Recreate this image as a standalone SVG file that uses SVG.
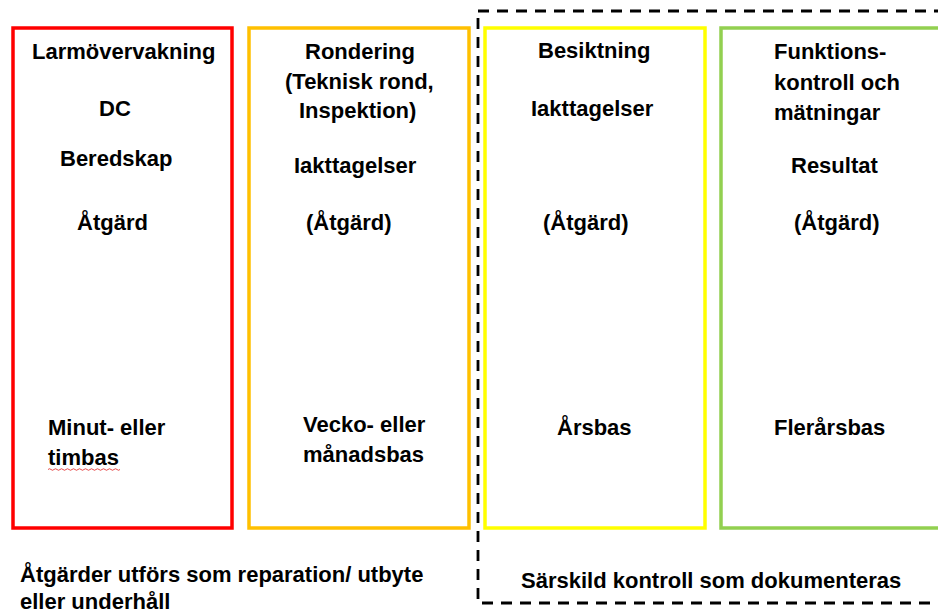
<svg xmlns="http://www.w3.org/2000/svg" width="938" height="614" viewBox="0 0 938 614">
<style>
  .box { fill: none; stroke-width: 3.5; }
  .t { font-family: "Liberation Sans", Arial, sans-serif; font-weight: bold; font-size: 22px; fill: #000; }
</style>
<rect width="938" height="614" fill="#fff"/>
<g id="group-dashed">
  <rect x="478" y="11" width="500" height="592" fill="none" stroke="#000" stroke-width="2.8" stroke-dasharray="11 8"/>
  <text class="t" x="521" y="588">Särskild kontroll som dokumenteras</text>
</g>
<g id="node-larm">
  <rect class="box" x="13" y="28" width="219" height="500" stroke="#FF0000"/>
  <text class="t" x="32" y="59">Larmövervakning</text>
  <text class="t" x="99" y="116">DC</text>
  <text class="t" x="60" y="166">Beredskap</text>
  <text class="t" x="77" y="230">Åtgärd</text>
  <text class="t" x="48" y="435">Minut- eller</text>
  <text class="t" x="48" y="465">timbas</text>
  <path d="M48 469.5 q1.5 -1.5 3 0 t3 0 t3 0 t3 0 t3 0 t3 0 t3 0 t3 0 t3 0 t3 0 t3 0 t3 0 t3 0 t3 0 t3 0 t3 0 t3 0 t3 0 t3 0 t3 0 t3 0 t3 0 t3 0 t3 0" fill="none" stroke="#E02020" stroke-width="0.8"/>
</g>
<g id="node-rondering">
  <rect class="box" x="249" y="28" width="220" height="500" stroke="#FFC000"/>
  <text class="t" x="305" y="59">Rondering</text>
  <text class="t" x="285" y="89">(Teknisk rond,</text>
  <text class="t" x="299" y="118">Inspektion)</text>
  <text class="t" x="294" y="173">Iakttagelser</text>
  <text class="t" x="306" y="230">(Åtgärd)</text>
  <text class="t" x="303" y="432">Vecko- eller</text>
  <text class="t" x="303" y="462">månadsbas</text>
</g>
<g id="node-besiktning">
  <rect class="box" x="485" y="28" width="220" height="500" stroke="#FFFF00"/>
  <text class="t" x="538" y="58">Besiktning</text>
  <text class="t" x="531" y="116">Iakttagelser</text>
  <text class="t" x="543" y="230">(Åtgärd)</text>
  <text class="t" x="557" y="435">Årsbas</text>
</g>
<g id="node-funktion">
  <rect class="box" x="721" y="28" width="240" height="500" stroke="#92D050"/>
  <text class="t" x="774" y="59">Funktions-</text>
  <text class="t" x="774" y="90">kontroll och</text>
  <text class="t" x="774" y="120">mätningar</text>
  <text class="t" x="791" y="173">Resultat</text>
  <text class="t" x="794" y="230">(Åtgärd)</text>
  <text class="t" x="774" y="435">Flerårsbas</text>
</g>
<g id="connectors"></g>
<g id="note">
  <text class="t" x="20" y="582">Åtgärder utförs som reparation/ utbyte</text>
  <text class="t" x="20" y="609">eller underhåll</text>
</g>
</svg>
